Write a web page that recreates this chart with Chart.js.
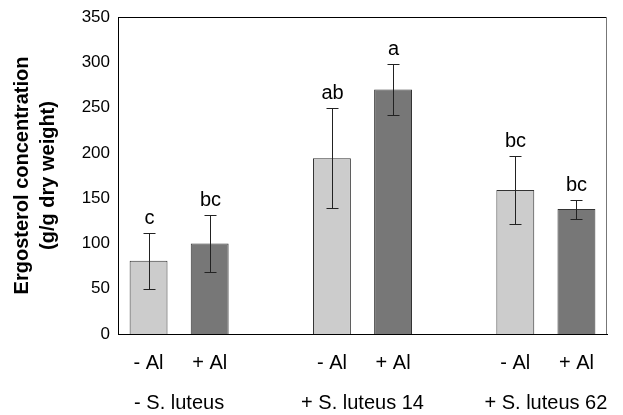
<!DOCTYPE html>
<html>
<head>
<meta charset="utf-8">
<script src="https://cdn.jsdelivr.net/npm/chart.js@4/dist/chart.umd.min.js"></script>
<style>
  body { margin: 0; background: #fff; }
</style>
</head>
<body>
<canvas id="chart" width="623" height="415"></canvas>
<script>
// one slot per bar, empty slots separate the groups
const treatments = ["- Al", "+ Al", "", "- Al", "+ Al", "", "- Al", "+ Al"];
const ergosterol = [81, 100, null, 194, 270, null, 159, 138];
const errors = [31, 31, null, 55, 28, null, 38, 10.5];
const letters = ["c", "bc", "", "ab", "a", "", "bc", "bc"];
const groups = ["- S. luteus", "+ S. luteus 14", "+ S. luteus 62"];
const groupSlots = [[0, 1], [3, 4], [6, 7]];
const yTicks = [0, 50, 100, 150, 200, 250, 300, 350];

const FONT = "'Liberation Sans', Arial, sans-serif";
const barColors = treatments.map(t => (t === "+ Al" ? "#777777" : "#cccccc"));

const extras = {
  id: "extras",
  afterDatasetsDraw(chart) {
    const ctx = chart.ctx;
    const x = chart.scales.x;
    const y = chart.scales.y;
    const area = chart.chartArea;

    // error bars and letters
    ctx.save();
    ctx.strokeStyle = "#222";
    ctx.lineWidth = 1;
    ergosterol.forEach((v, i) => {
      if (v === null) return;
      const px = Math.round(x.getPixelForValue(i)) + 0.5;
      const top = Math.round(y.getPixelForValue(v + errors[i])) + 0.5;
      const bot = Math.round(y.getPixelForValue(v - errors[i])) + 0.5;
      ctx.beginPath();
      ctx.moveTo(px, top); ctx.lineTo(px, bot);
      ctx.moveTo(px - 6, top); ctx.lineTo(px + 6, top);
      ctx.moveTo(px - 6, bot); ctx.lineTo(px + 6, bot);
      ctx.stroke();

      ctx.fillStyle = "#000";
      ctx.font = "20px " + FONT;
      ctx.textAlign = "center";
      ctx.textBaseline = "alphabetic";
      ctx.fillText(letters[i], px, top - 10);
    });

    // top and right frame lines
    ctx.beginPath();
    ctx.strokeStyle = "#000";
    ctx.moveTo(area.left, Math.round(area.top) + 0.5);
    ctx.lineTo(area.right, Math.round(area.top) + 0.5);
    ctx.stroke();
    ctx.beginPath();
    ctx.strokeStyle = "#777";
    ctx.moveTo(Math.round(area.right) - 0.5, area.top);
    ctx.lineTo(Math.round(area.right) - 0.5, area.bottom);
    ctx.stroke();

    // group labels under the treatment labels
    ctx.fillStyle = "#000";
    ctx.font = "20px " + FONT;
    ctx.textAlign = "center";
    ctx.textBaseline = "middle";
    groups.forEach((g, k) => {
      const cx = (x.getPixelForValue(groupSlots[k][0]) + x.getPixelForValue(groupSlots[k][1])) / 2;
      ctx.fillText(g, cx, 403);
    });
    ctx.restore();
  }
};

new Chart(document.getElementById("chart"), {
  type: "bar",
  data: {
    labels: treatments,
    datasets: [{
      data: ergosterol,
      backgroundColor: barColors,
      borderColor: "#333",
      borderWidth: 1,
      borderSkipped: "bottom",
      barPercentage: 0.62,
      categoryPercentage: 1
    }]
  },
  options: {
    responsive: false,
    animation: false,
    layout: { padding: { top: 17, right: 16, left: 0, bottom: 0 } },
    plugins: {
      legend: { display: false },
      tooltip: { enabled: false }
    },
    scales: {
      x: {
        grid: { display: false, drawTicks: false },
        border: { color: "#000", width: 1 },
        ticks: {
          color: "#000",
          font: { family: FONT, size: 20 },
          padding: 17,
          maxRotation: 0,
          autoSkip: false
        },
        afterFit: s => { s.height = 81; }
      },
      y: {
        min: 0,
        max: 350,
        afterBuildTicks: s => { s.ticks = yTicks.map(v => ({ value: v })); },
        grid: { display: false, drawOnChartArea: false, drawTicks: true, tickLength: 5, tickColor: "#000" },
        border: { color: "#000", width: 1 },
        ticks: {
          color: "#000",
          font: { family: FONT, size: 17 },
          padding: 3
        },
        title: {
          display: true,
          text: ["Ergosterol concentration", "(g/g dry weight)"],
          color: "#000",
          font: { family: FONT, size: 20, weight: "bold", lineHeight: 1.3 },
          padding: { top: 9, bottom: 0 }
        },
        afterFit: s => { s.width = 118; }
      }
    }
  },
  plugins: [extras]
});
</script>
</body>
</html>
